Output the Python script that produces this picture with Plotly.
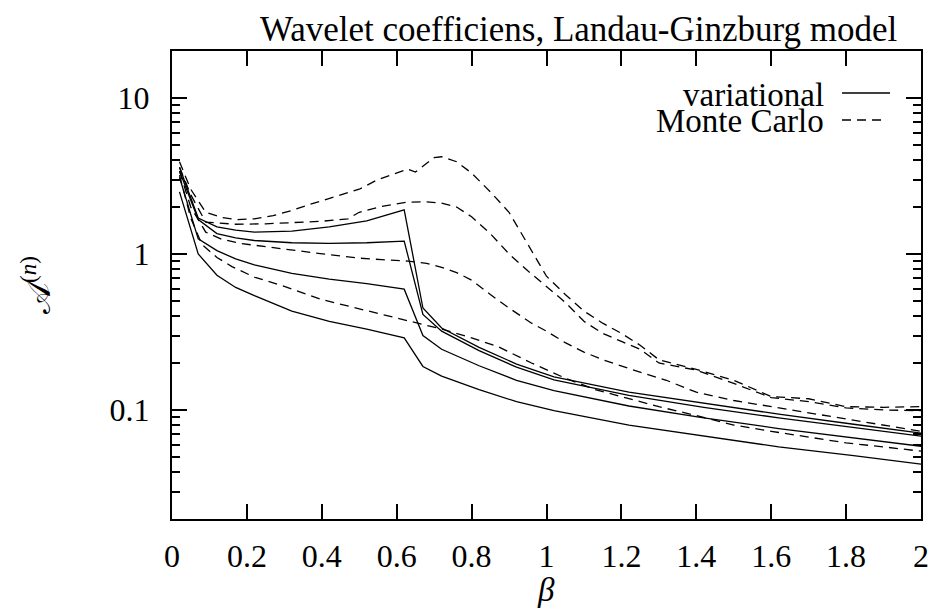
import math
import plotly.graph_objects as go

# ---------------- data ----------------
beta_var = [0.02, 0.07, 0.12, 0.17, 0.22, 0.32, 0.42, 0.52, 0.62, 0.67, 0.72,
            0.82, 0.92, 1.02, 1.22, 1.42, 1.62, 1.82, 2.0]
var_1 = [3.6, 1.70, 1.49, 1.42, 1.38, 1.40, 1.49, 1.63, 1.92, 0.45, 0.335,
         0.252, 0.197, 0.163, 0.130, 0.110, 0.094, 0.081, 0.071]
var_2 = [3.4, 1.66, 1.35, 1.27, 1.22, 1.18, 1.17, 1.18, 1.21, 0.41, 0.32,
         0.240, 0.188, 0.156, 0.124, 0.104, 0.089, 0.077, 0.068]
var_3 = [3.1, 1.25, 1.05, 0.93, 0.85, 0.75, 0.69, 0.645, 0.595, 0.30, 0.245,
         0.192, 0.155, 0.133, 0.106, 0.089, 0.076, 0.066, 0.0585]
var_4 = [2.5, 1.00, 0.73, 0.61, 0.54, 0.43, 0.37, 0.33, 0.29, 0.19, 0.165,
         0.135, 0.113, 0.099, 0.080, 0.068, 0.058, 0.051, 0.045]

beta_mc_1 = [0.02, 0.05, 0.09, 0.13, 0.17, 0.22, 0.27, 0.32, 0.36, 0.40, 0.45,
             0.50, 0.55, 0.60, 0.63, 0.65, 0.70, 0.72, 0.76, 0.80, 0.85, 0.90,
             0.95, 1.00, 1.05, 1.10, 1.15, 1.20, 1.25, 1.30, 1.35, 1.40, 1.50,
             1.60, 1.70, 1.80, 1.90, 2.00]
mc_1 = [3.9, 2.6, 1.85, 1.72, 1.66, 1.68, 1.76, 1.90, 2.05, 2.20, 2.40,
        2.60, 3.00, 3.30, 3.50, 3.35, 4.15, 4.20, 3.90, 3.30, 2.50, 1.85,
        1.15, 0.72, 0.55, 0.43, 0.36, 0.31, 0.26, 0.21, 0.195, 0.182, 0.155,
        0.122, 0.118, 0.105, 0.104, 0.105]

beta_mc_2 = [0.02, 0.05, 0.09, 0.13, 0.17, 0.25, 0.32, 0.40, 0.47, 0.50, 0.56,
             0.63, 0.68, 0.72, 0.76, 0.80, 0.85, 0.90, 0.95, 1.00, 1.05, 1.10,
             1.15, 1.20, 1.25, 1.30, 1.40, 1.50, 1.60, 1.70, 1.80, 1.90, 2.00]
mc_2 = [3.6, 2.4, 1.60, 1.57, 1.55, 1.56, 1.58, 1.62, 1.68, 1.85, 2.02,
        2.15, 2.16, 2.12, 2.00, 1.73, 1.35, 1.00, 0.78, 0.62, 0.49, 0.37,
        0.31, 0.275, 0.245, 0.20, 0.18, 0.148, 0.120, 0.113, 0.103, 0.100, 0.099]

beta_mc_3 = [0.02, 0.05, 0.09, 0.13, 0.18, 0.24, 0.30, 0.39, 0.45, 0.50, 0.56,
             0.63, 0.68, 0.72, 0.76, 0.80, 0.85, 0.90, 0.96, 1.00, 1.05, 1.10,
             1.15, 1.23, 1.32, 1.40, 1.50, 1.60, 1.70, 1.80, 1.90, 2.00]
mc_3 = [3.4, 2.0, 1.38, 1.25, 1.17, 1.12, 1.07, 1.01, 0.97, 0.94, 0.92,
        0.90, 0.87, 0.82, 0.76, 0.68, 0.55, 0.45, 0.36, 0.32, 0.27, 0.235,
        0.21, 0.181, 0.155, 0.130, 0.115, 0.105, 0.095, 0.087, 0.080, 0.073]

beta_mc_4 = [0.02, 0.05, 0.08, 0.12, 0.16, 0.22, 0.30, 0.40, 0.50, 0.60, 0.63,
             0.72, 0.80, 0.87, 0.96, 1.05, 1.13, 1.20, 1.30, 1.40, 1.50, 1.60,
             1.70, 1.80, 1.90, 2.00]
mc_4 = [3.2, 1.7, 1.15, 0.95, 0.83, 0.71, 0.62, 0.51, 0.445, 0.39, 0.375,
        0.33, 0.29, 0.255, 0.20, 0.16, 0.135, 0.122, 0.105, 0.092, 0.080, 0.073,
        0.067, 0.0615, 0.058, 0.0544]

x_ticks = [0, 0.2, 0.4, 0.6, 0.8, 1, 1.2, 1.4, 1.6, 1.8, 2]
x_tick_labels = ["0", "0.2", "0.4", "0.6", "0.8", "1", "1.2", "1.4", "1.6", "1.8", "2"]
y_ticks = [0.1, 1, 10]
y_tick_labels = ["0.1", "1", "10"]
y_minor = [m * d for d in (0.01, 0.1, 1, 10) for m in range(2, 10)]

title_text = "Wavelet coefficiens, Landau-Ginzburg model"
legend_labels = ["variational", "Monte Carlo"]

# ---------------- layout geometry ----------------
W, H = 932, 608
L, R, T, B = 172, 11, 51, 89
PW, PH = W - L - R, H - T - B

def px(x):
    return (x - L) / PW

def py(y):
    return (H - B - y) / PH

FONT = "Liberation Serif, Times New Roman, serif"
FS_TICK = 32
FS_TEXT = 33
FS_TITLE = 35
line_w = 1.3
dash = "9px,6px"

fig = go.Figure()
for ys in (var_1, var_2, var_3, var_4):
    fig.add_trace(go.Scatter(x=beta_var, y=ys, mode="lines",
                             line=dict(color="black", width=line_w),
                             showlegend=False, hoverinfo="skip"))
for bx, ys in ((beta_mc_1, mc_1), (beta_mc_2, mc_2), (beta_mc_3, mc_3), (beta_mc_4, mc_4)):
    fig.add_trace(go.Scatter(x=bx, y=ys, mode="lines",
                             line=dict(color="black", width=line_w, dash=dash),
                             showlegend=False, hoverinfo="skip"))

axis_common = dict(showline=True, linecolor="black", linewidth=2, mirror="ticks",
                   ticks="inside", ticklen=15, tickwidth=1.5, tickcolor="black",
                   showgrid=False, zeroline=False, automargin=False,
                   tickfont=dict(family=FONT, size=FS_TICK, color="black"))

fig.update_xaxes(range=[0, 2], tickmode="array", tickvals=x_ticks,
                 ticktext=x_tick_labels, ticklabelstandoff=8, **axis_common)
fig.update_yaxes(type="log", range=[math.log10(0.02), math.log10(20)],
                 tickmode="array", tickvals=y_ticks, ticktext=y_tick_labels,
                 ticklabelstandoff=14,
                 minor=dict(tickmode="array", tickvals=y_minor, ticks="inside",
                            ticklen=8, tickwidth=1.5, tickcolor="black", showgrid=False),
                 **axis_common)

annotations = [
    dict(text=title_text, x=px(579), y=py(30), xref="paper", yref="paper",
         showarrow=False, xanchor="center", yanchor="middle",
         font=dict(family=FONT, size=FS_TITLE, color="black")),
    dict(text="<i>β</i>", x=px(546), y=py(590), xref="paper", yref="paper",
         showarrow=False, xanchor="center", yanchor="middle",
         font=dict(family=FONT, size=FS_TEXT, color="black")),
    dict(text="𝒜<sup>(<i>n</i>)</sup>", x=px(36), y=py(285), xref="paper", yref="paper",
         showarrow=False, xanchor="center", yanchor="middle", textangle=-90,
         font=dict(family=FONT, size=FS_TEXT, color="black")),
    dict(text=legend_labels[0], x=px(826), y=py(95), xref="paper", yref="paper",
         showarrow=False, xanchor="right", yanchor="middle",
         font=dict(family=FONT, size=FS_TEXT, color="black")),
    dict(text=legend_labels[1], x=px(826), y=py(121), xref="paper", yref="paper",
         showarrow=False, xanchor="right", yanchor="middle",
         font=dict(family=FONT, size=FS_TEXT, color="black")),
]
shapes = [
    dict(type="line", xref="paper", yref="paper", x0=px(842), x1=px(890),
         y0=py(93), y1=py(93), line=dict(color="black", width=line_w)),
    dict(type="line", xref="paper", yref="paper", x0=px(842), x1=px(887),
         y0=py(120), y1=py(120), line=dict(color="black", width=line_w, dash=dash)),
]

fig.update_layout(width=W, height=H, margin=dict(l=L, r=R, t=T, b=B, autoexpand=False),
                  paper_bgcolor="white", plot_bgcolor="white",
                  font=dict(family=FONT, size=FS_TEXT, color="black"),
                  annotations=annotations, shapes=shapes, showlegend=False)

fig.write_html("out.html")
